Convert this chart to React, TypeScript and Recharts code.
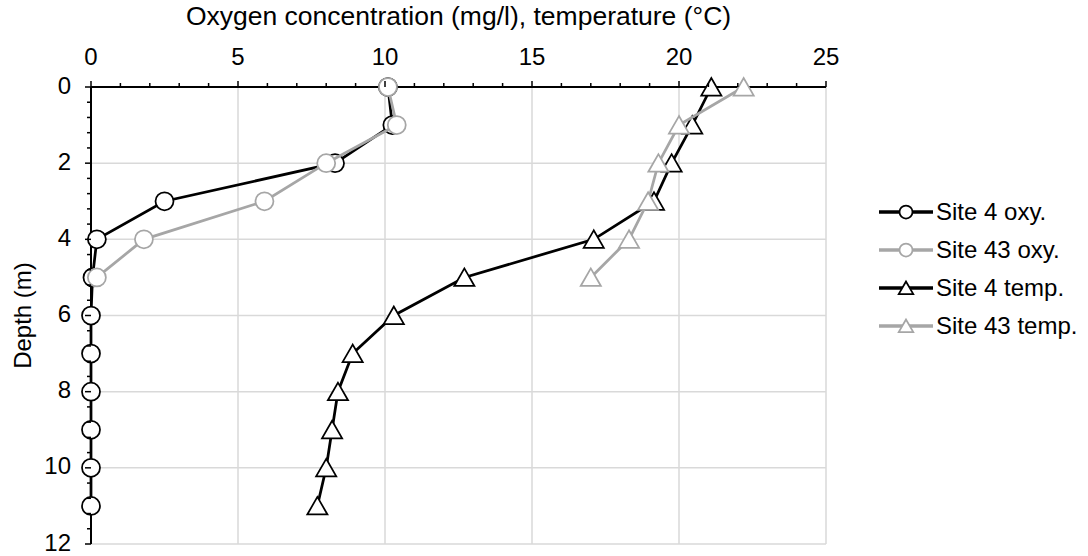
import React from 'react';
import { ScatterChart, Scatter, XAxis, YAxis, ReferenceLine, Legend } from 'recharts';

const FONT = '"Liberation Sans", Arial, sans-serif';

// depths (m)
const depthsSite4 = [0, 1, 2, 3, 4, 5, 6, 7, 8, 9, 10, 11];
const depthsSite43 = [0, 1, 2, 3, 4, 5];

// values
const site4Oxy = [10.1, 10.25, 8.3, 2.5, 0.2, 0.05, 0, 0, 0, 0, 0, 0];
const site43Oxy = [10.1, 10.4, 8.0, 5.9, 1.8, 0.2];
const site4Temp = [21.1, 20.45, 19.75, 19.15, 17.1, 12.7, 10.3, 8.9, 8.4, 8.2, 8.0, 7.7];
const site43Temp = [22.2, 20.0, 19.3, 18.95, 18.3, 17.0];

const seriesNames = ['Site 4 oxy.', 'Site 43 oxy.', 'Site 4 temp.', 'Site 43 temp.'];
const seriesColors = ['#000000', '#a6a6a6', '#000000', '#a6a6a6'];
const seriesShapes = ['circle', 'circle', 'triangle', 'triangle'];

// axis ticks
const xTicks = [0, 1, 2, 3, 4, 5, 6, 7, 8, 9, 10, 11, 12, 13, 14, 15, 16, 17, 18, 19, 20, 21, 22, 23, 24, 25];
const yTicks = [0, 0.4, 0.8, 1.2, 1.6, 2, 2.4, 2.8, 3.2, 3.6, 4, 4.4, 4.8, 5.2, 5.6, 6, 6.4, 6.8, 7.2, 7.6, 8, 8.4, 8.8, 9.2, 9.6, 10, 10.4, 10.8, 11.2, 11.6, 12];
const xGrid = [5, 10, 15, 20, 25];
const yGrid = [2, 4, 6, 8, 10, 12];

const toPoints = (vals: number[], depths: number[]) => vals.map((v, i) => ({ x: v, y: depths[i] }));

const seriesData = [
  toPoints(site4Oxy, depthsSite4),
  toPoints(site43Oxy, depthsSite43),
  toPoints(site4Temp, depthsSite4),
  toPoints(site43Temp, depthsSite43),
];

const TICK_FS = 24;

const XTick = (props: any) => {
  const { x, y, payload } = props;
  const v = payload.value;
  const major = v % 5 === 0;
  return (
    <g>
      <line x1={x} y1={y} x2={x} y2={y - (major ? 6 : 4)} stroke="#000" strokeWidth={1.5} />
      {major && (
        <text x={x} y={y - 22} textAnchor="middle" fontSize={TICK_FS} fontFamily={FONT} fill="#000">
          {v}
        </text>
      )}
    </g>
  );
};

const YTick = (props: any) => {
  const { x, y, payload } = props;
  const v = payload.value;
  const r = Math.round(v);
  const major = Math.abs(v - r) < 1e-6 && r % 2 === 0;
  return (
    <g>
      <line x1={x} y1={y} x2={x - (major ? 6 : 4)} y2={y} stroke="#000" strokeWidth={1.5} />
      {major && (
        <text x={x - 20} y={y + 6.5} textAnchor="end" fontSize={TICK_FS} fontFamily={FONT} fill="#000">
          {r}
        </text>
      )}
    </g>
  );
};

const makeShape = (kind: string, color: string, size: number) => (props: any) => {
  const { cx, cy } = props;
  if (cx == null || cy == null) return <g />;
  if (kind === 'circle') {
    return <circle cx={cx} cy={cy} r={size} fill="#fff" stroke={color} strokeWidth={1.75} />;
  }
  const h = size * 1.0;
  const w = size * 1.12;
  const pts = `${cx},${cy - h} ${cx - w},${cy + h * 0.95} ${cx + w},${cy + h * 0.95}`;
  return <polygon points={pts} fill="#fff" stroke={color} strokeWidth={1.75} strokeLinejoin="miter" />;
};

const LegendContent = () => (
  <div style={{ fontFamily: FONT, fontSize: TICK_FS, color: '#000' }}>
    {seriesNames.map((name, i) => {
      const color = seriesColors[i];
      const shape = makeShape(seriesShapes[i], color, 6.5);
      return (
        <div key={name} style={{ display: 'flex', alignItems: 'center', height: 38 }}>
          <svg width={60} height={38} style={{ display: 'block' }}>
            <line x1={3} y1={19} x2={57} y2={19} stroke={color} strokeWidth={3.5} />
            {shape({ cx: 30, cy: 19 })}
          </svg>
          <span style={{ whiteSpace: 'nowrap' }}>{name}</span>
        </div>
      );
    })}
  </div>
);

export default function App() {
  return (
    <div style={{ position: 'absolute', left: 0, top: 0, width: 1088, height: 556, background: '#fff' }}>
      <ScatterChart width={1088} height={556} margin={{ top: 0, right: 262, bottom: 12, left: 0 }}>
        <XAxis
          type="number"
          dataKey="x"
          orientation="top"
          domain={[0, 25]}
          ticks={xTicks}
          interval={0}
          tickSize={0}
          tickMargin={0}
          tickLine={false}
          height={87}
          axisLine={{ stroke: '#000', strokeWidth: 2 }}
          tick={(p: any) => <XTick {...p} />}
          label={{
            value: 'Oxygen concentration (mg/l), temperature (°C)',
            position: 'insideTop',
            offset: 6,
            fontSize: 26.5,
            fontFamily: FONT,
            fill: '#000',
          }}
        />
        <YAxis
          type="number"
          dataKey="y"
          reversed
          domain={[0, 12]}
          ticks={yTicks}
          interval={0}
          tickSize={0}
          tickMargin={0}
          tickLine={false}
          width={91}
          axisLine={{ stroke: '#000', strokeWidth: 2 }}
          tick={(p: any) => <YTick {...p} />}
          label={{
            value: 'Depth (m)',
            angle: -90,
            position: 'insideLeft',
            offset: 22,
            fontSize: TICK_FS,
            fontFamily: FONT,
            fill: '#000',
            style: { textAnchor: 'middle' },
          }}
        />
        {xGrid.map((v) => (
          <ReferenceLine key={'gx' + v} x={v} stroke="#d9d9d9" strokeWidth={1.5} />
        ))}
        {yGrid.map((v) => (
          <ReferenceLine key={'gy' + v} y={v} stroke="#d9d9d9" strokeWidth={1.5} />
        ))}
        <Legend
          layout="vertical"
          align="center"
          verticalAlign="middle"
          wrapperStyle={{ left: 876, top: 193, width: 212 }}
          content={() => <LegendContent />}
        />
        {seriesData.map((data, i) => (
          <Scatter
            key={seriesNames[i]}
            name={seriesNames[i]}
            data={data}
            line={{ stroke: seriesColors[i], strokeWidth: 2.75 }}
            lineType="joint"
            shape={makeShape(seriesShapes[i], seriesColors[i], 9)}
            isAnimationActive={false}
          />
        ))}
      </ScatterChart>
    </div>
  );
}
